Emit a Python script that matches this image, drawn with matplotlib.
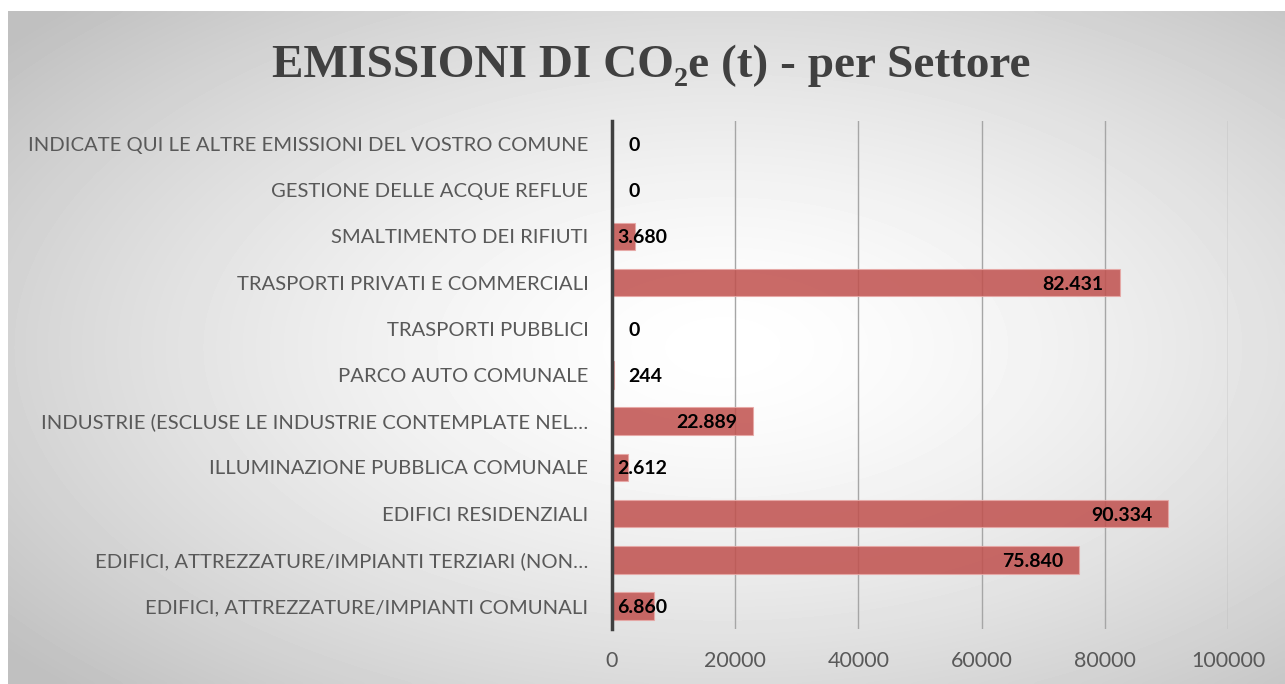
import matplotlib
matplotlib.use('Agg')
import matplotlib.pyplot as plt
import numpy as np

# Dati: emissioni di CO2e (t) per settore
settori = [
    'EDIFICI, ATTREZZATURE/IMPIANTI COMUNALI',
    'EDIFICI, ATTREZZATURE/IMPIANTI TERZIARI (NON…',
    'EDIFICI RESIDENZIALI',
    'ILLUMINAZIONE PUBBLICA COMUNALE',
    'INDUSTRIE (ESCLUSE LE INDUSTRIE CONTEMPLATE NEL…',
    'PARCO AUTO COMUNALE',
    'TRASPORTI PUBBLICI',
    'TRASPORTI PRIVATI E COMMERCIALI',
    'SMALTIMENTO DEI RIFIUTI',
    'GESTIONE DELLE ACQUE REFLUE',
    'INDICATE QUI LE ALTRE EMISSIONI DEL VOSTRO COMUNE',
]
emissioni = [6860, 75840, 90334, 2612, 22889, 244, 0, 82431, 3680, 0, 0]
etichette = ['6.860', '75.840', '90.334', '2.612', '22.889', '244', '0',
             '82.431', '3.680', '0', '0']
xticks = [0, 20000, 40000, 60000, 80000, 100000]

W, H = 1285, 684
fig = plt.figure(figsize=(W / 100, H / 100), dpi=100)
fig.patch.set_facecolor('white')

# Sfondo con gradiente radiale (bianco al centro, grigio ai bordi)
bg = fig.add_axes([8 / W, 0, 1 - 8 / W, (H - 11) / H], zorder=0)
gx, gy = np.meshgrid(np.linspace(-1, 1, 400), np.linspace(-1, 1, 220))
r = np.sqrt((gx - 0.12) ** 2 + gy ** 2) / 1.45
val = 1 - 0.25 * np.clip(r, 0, 1) ** 1.5
bg.imshow(val, cmap='gray', vmin=0, vmax=1, aspect='auto', extent=[0, 1, 0, 1],
          interpolation='bicubic')
bg.set_xlim(0, 1)
bg.set_ylim(0, 1)
bg.axis('off')

# Titolo
fig.text(651 / W, 1 - 66 / H, 'EMISSIONI DI CO₂e (t) - per Settore',
         ha='center', va='center', fontsize=34, fontweight='bold',
         color='#404040', family=['Liberation Serif', 'DejaVu Serif'])

ax = fig.add_axes([612 / W, (H - 629) / H, (1228 - 612) / W, (629 - 121) / H], zorder=2)
ax.patch.set_alpha(0)
y = np.arange(len(settori))
ax.barh(y, emissioni, height=0.6, color='#C0504D', alpha=0.85,
        edgecolor='#E8A8A6', linewidth=0.8, zorder=3)

# Etichette dati
for yi, v, t in zip(y, emissioni, etichette):
    if v < 1000:
        x, ha = 2600, 'left'
    elif v < 10000:
        x, ha = 800, 'left'
    else:
        x, ha = v - 2600, 'right'
    ax.text(x, yi, t, ha=ha, va='center_baseline', fontsize=14, fontweight='bold',
            color='black', family='Lato', zorder=4)

ax.set_xlim(0, 100000)
ax.set_ylim(-0.5, len(settori) - 0.5)
ax.set_xticks(xticks)
ax.set_xticklabels([str(v) for v in xticks], fontsize=15.5, color='#595959', family='Lato')
ax.set_yticks(y)
ax.set_yticklabels(settori, fontsize=14.6, color='#595959', family='Lato')
ax.tick_params(axis='both', length=0)
ax.tick_params(axis='x', pad=16)
ax.tick_params(axis='y', pad=17)
ax.grid(axis='x', color='#A6A6A6', linewidth=1, zorder=1)
for s in ['top', 'right', 'bottom']:
    ax.spines[s].set_visible(False)
ax.spines['left'].set_color('#404040')
ax.spines['left'].set_linewidth(2.5)
ax.spines['left'].set_zorder(5)

fig.savefig('out.png', dpi=100)
